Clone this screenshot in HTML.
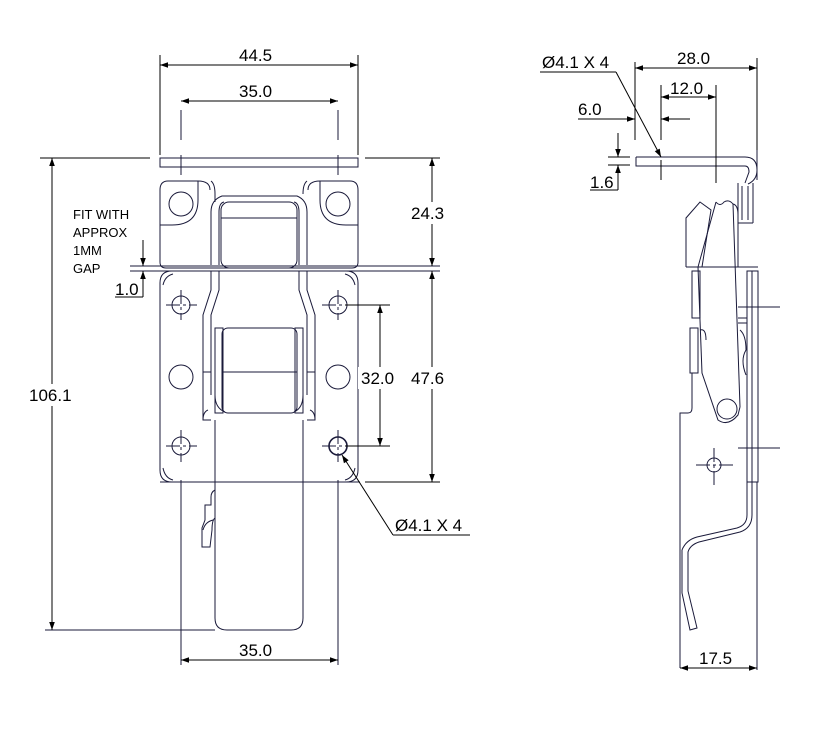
<!DOCTYPE html>
<html><head><meta charset="utf-8"><style>
html,body{margin:0;padding:0;background:#fff}
svg{display:block}
text{font-family:"Liberation Sans",sans-serif;font-size:17px;fill:#000}
</style></head><body>
<svg width="830" height="731" viewBox="0 0 830 731" xmlns="http://www.w3.org/2000/svg">
<defs>
<marker id="a" viewBox="0 0 10 10" refX="10" refY="5" markerWidth="14" markerHeight="8" orient="auto-start-reverse" markerUnits="userSpaceOnUse"><path d="M0,1.5 L10,5 L0,8.5 z" fill="#000"/></marker>
</defs>
<g fill="none" stroke="#1a1a3a" stroke-width="1">
<rect x="160" y="158" width="198" height="9"/>
<path d="M210,190 Q210,181 198,181 H168 Q160,181 160,190 V262 Q160,268 166,268 H352 Q358,268 358,262 V190 Q358,181 350,181 H320 Q308,181 308,190"/>
<path d="M160,225 H172 Q198,225 198,200 V181 M358,225 H346 Q320,225 320,200 V181"/>
<circle cx="181" cy="204" r="12"/><circle cx="338" cy="204" r="12"/>
<line x1="130" y1="266" x2="440" y2="266"/><line x1="130" y1="271" x2="440" y2="271"/>
<path d="M172,271 H346 Q358,271 358,283 V470 Q358,482 346,482 H172 Q160,482 160,470 V283 Q160,271 172,271Z"/>
<path d="M163,285 Q165,276 173,274 M355,285 Q353,276 345,274 M163,468 Q165,478 173,480 M355,468 Q353,478 345,480"/>
<circle cx="181" cy="305" r="9"/><circle cx="338" cy="305" r="9"/>
<circle cx="181" cy="377" r="12"/><circle cx="338" cy="377" r="12"/>
<circle cx="181" cy="446" r="9"/><circle cx="338" cy="446" r="9" stroke-width="1.6"/>
<g stroke-dasharray="14,3,3,3">
<path d="M166,305 H197 M181,290 V320 M322,305 H354 M338,290 V320 M166,446 H197 M181,430 V462 M322,446 H354 M338,430 V462"/>
</g>
<path d="M181,110 V140 M338,110 V140 M181,155 V175 M338,155 V175 M181,480 V665 M338,480 V665"/>
<path d="M211,181 Q215,184 215,194 V202 M303,194 Q303,184 307,181"/>
<path d="M211,265 V212 Q211,200 222,196 H297 Q307,200 307,212 V265"/>
<path d="M219,265 V212 Q219,203 224,202 M294,202 Q299,203 299,212 V265"/>
<rect x="221" y="202" width="76" height="66" rx="8"/>
<line x1="221" y1="218" x2="297" y2="218"/>
<path d="M211,271 V290 L203,315 V420 H211 M307,271 V290 L315,315 V420 H307"/>
<path d="M219,271 V290 L211,315 V395 M299,271 V290 L307,315 V395"/>
<path d="M215,420 V618 Q215,630 227,630 H291 Q303,630 303,618 V420"/>
<rect x="215" y="328" width="8" height="85"/><rect x="295" y="328" width="8" height="85"/>
<rect x="222" y="328" width="75" height="85" rx="6"/>
<path d="M222,372 H297 M225,412 Q215,408 215,395 M294,412 Q303,408 303,395"/>
<path d="M208,410 Q203,412 203,420 M310,410 Q315,412 315,420"/>
<path d="M203,372 H211 M307,372 H315"/>
<path d="M215,490 Q211,492 211,497 V505 H205 V520 L202,528 V547 H210 L212,530 Q212,520 215,518"/>
<path d="M203,530 Q205,522 213,520"/>
<line x1="45" y1="630" x2="215" y2="630"/>
<line x1="303" y1="482" x2="360" y2="482"/>
<line x1="160" y1="482" x2="215" y2="482"/>

<g stroke="#000">
<path d="M160,55 V155 M358,55 V155"/>
<line x1="160" y1="65" x2="358" y2="65" marker-start="url(#a)" marker-end="url(#a)"/>
<line x1="181" y1="101" x2="338" y2="101" marker-start="url(#a)" marker-end="url(#a)"/>
<path d="M40,158 H150 M365,158 H440 M365,482 H440 M345,305 H390 M345,446 H390"/>
<line x1="52" y1="158" x2="52" y2="630" marker-start="url(#a)" marker-end="url(#a)"/>
<line x1="432" y1="158" x2="432" y2="266" marker-start="url(#a)" marker-end="url(#a)"/>
<line x1="432" y1="271" x2="432" y2="482" marker-start="url(#a)" marker-end="url(#a)"/>
<line x1="380" y1="305" x2="380" y2="446" marker-start="url(#a)" marker-end="url(#a)"/>
<line x1="181" y1="660" x2="338" y2="660" marker-start="url(#a)" marker-end="url(#a)"/>
<line x1="143" y1="240" x2="143" y2="266" marker-end="url(#a)"/>
<line x1="143" y1="297" x2="143" y2="271" marker-end="url(#a)"/>
<path d="M115,297 H143"/>
<line x1="393" y1="535" x2="342" y2="455" marker-end="url(#a)"/>
<path d="M393,535 H470"/>
</g>

<!-- SIDE VIEW -->
<path d="M636,157 H745 Q757,157 757,170 Q757,180 748,184 M636,157 V166 H745 Q749,166 749,172 L745,183"/>
<path d="M738,183 V223 H753 M742,186 V220 M748,186 V220 M753,183 V223"/>
<path d="M686,267 V218 L700,202 L711,210 L702,267"/>
<path d="M716,202 Q720,207 724,202 Q729,199 733,204 L740,407"/>
<path d="M716,202 L698,267 L702,373 L718,420 Q728,427 738,415 L740,407"/>
<path d="M733,204 Q738,205 738,215 V267"/>
<circle cx="727" cy="409" r="10"/>
<path d="M686,267 H758"/>
<rect x="747" y="271" width="11" height="211"/><line x1="752" y1="271" x2="752" y2="482"/>
<rect x="692" y="271" width="8" height="47"/>
<rect x="690" y="328" width="8" height="45"/>
<path d="M738,318 H747 M738,323 H747 M700,330 Q706,328 706,340 M740,330 Q746,335 746,350 Q740,360 746,375"/>
<path d="M690,373 H692 V408 Q692,413 688,413 H680 V668"/>
<path d="M747,482 V515 Q747,525 737,528 L697,537 Q686,540 682,550 V593 L690,630 L697,628 L688,591 V552 Q690,545 699,542 L740,532 Q752,528 752,515 V482"/>
<circle cx="714" cy="465" r="7"/>
<g stroke-dasharray="14,3,3,3"><path d="M696,465 H733 M714,448 V485"/></g>
<path d="M738,307 H780 M738,448 H780"/>
<path d="M757,150 V180 M757,482 V670"/>
<g stroke="#000">
<path d="M635,62 V140 M757,58 V150 M661,85 V140 M716,85 V183 M661,160 V180"/>
<line x1="635" y1="68" x2="757" y2="68" marker-start="url(#a)" marker-end="url(#a)"/>
<line x1="661" y1="97" x2="716" y2="97" marker-start="url(#a)" marker-end="url(#a)"/>
<line x1="578" y1="119" x2="635" y2="119" marker-end="url(#a)"/>
<line x1="690" y1="119" x2="661" y2="119" marker-end="url(#a)"/>
<line x1="618" y1="133" x2="618" y2="157" marker-end="url(#a)"/>
<line x1="618" y1="190" x2="618" y2="165" marker-end="url(#a)"/>
<path d="M608,157 H630 M608,165 H630 M590,190 H618"/>
<path d="M540,72 H616"/>
<line x1="616" y1="72" x2="661" y2="157" marker-end="url(#a)"/>
<line x1="680" y1="668" x2="757" y2="668" marker-start="url(#a)" marker-end="url(#a)"/>
</g>
</g>
<g fill="#fff">
<rect x="28" y="384" width="48" height="22"/>
<rect x="408" y="202" width="40" height="22"/>
<rect x="408" y="367" width="40" height="22"/>
<rect x="358" y="367" width="40" height="22"/>
</g>
<g>
<text x="239" y="61">44.5</text>
<text x="239" y="97">35.0</text>
<text x="29" y="401">106.1</text>
<text x="411" y="219">24.3</text>
<text x="411" y="384">47.6</text>
<text x="361" y="384">32.0</text>
<text x="239" y="656">35.0</text>
<text x="395" y="531">Ø4.1 X 4</text>
<text x="115" y="295">1.0</text>
<text x="73" y="219" style="font-size:13px">FIT WITH</text>
<text x="73" y="237" style="font-size:13px">APPROX</text>
<text x="73" y="255" style="font-size:13px">1MM</text>
<text x="73" y="273" style="font-size:13px">GAP</text>
<text x="542" y="68">Ø4.1 X 4</text>
<text x="677" y="64">28.0</text>
<text x="670" y="94">12.0</text>
<text x="578" y="115">6.0</text>
<text x="590" y="188">1.6</text>
<text x="699" y="664">17.5</text>
</g>
</svg>
</body></html>
